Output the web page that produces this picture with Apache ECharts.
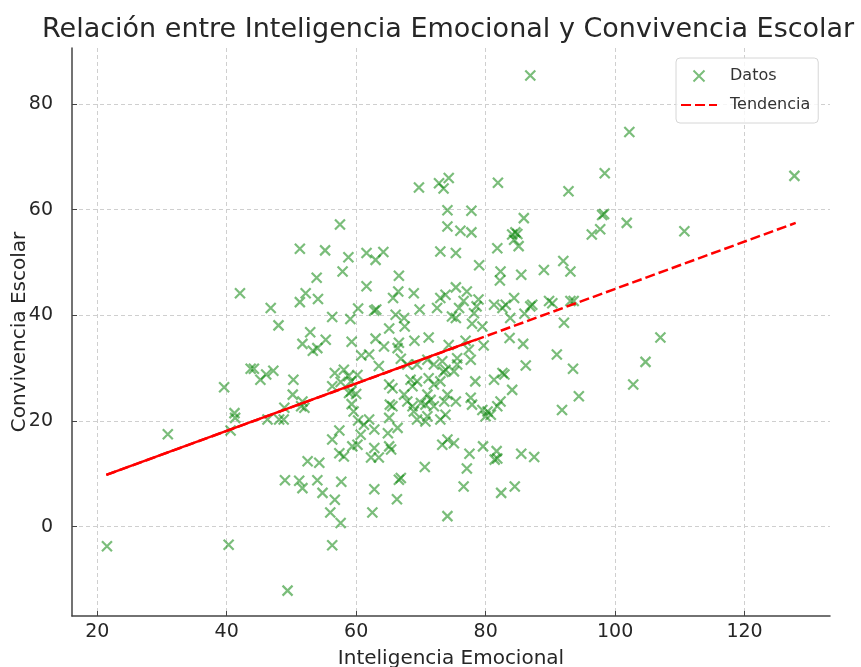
<!DOCTYPE html>
<html>
<head>
<meta charset="UTF-8">
<title>Relación entre Inteligencia Emocional y Convivencia Escolar</title>
<script src="https://cdn.jsdelivr.net/npm/echarts@6/dist/echarts.min.js"></script>
<style>html,body{margin:0;padding:0;background:#fff}</style>
</head>
<body>
<div id="chart" style="width:861px;height:667px"></div>
<script>
// puntos (x = inteligencia emocional, y = convivencia escolar)
var emoX = [21.5, 40.3, 49.4, 30.9, 40.6, 39.6, 41.2, 41.3, 42.05, 43.7, 44.2, 45.2, 86.9, 102.2, 127.7, 110.7, 107.0, 104.7, 102.8,
    57.5, 69.7, 72.8, 73.5, 74.3, 74.1, 74.1, 81.9, 98.4, 92.8, 77.8, 85.9, 98.0, 98.3, 97.7, 96.4, 101.8, 84.6, 84.9, 84.1, 76.1, 77.8,
    51.3, 55.2, 58.8, 57.9, 53.9, 61.6, 63.0, 64.2, 52.2, 51.3, 54.1, 46.8, 48.0, 56.3, 59.1, 60.3, 61.6, 66.6, 66.5, 65.7, 68.9, 73.0,
    73.0, 72.5, 73.8, 69.8, 62.8, 63.1, 66.1, 67.4, 67.5, 65.1, 52.9, 51.7, 53.3, 54.0, 55.3, 59.3, 63.0, 64.3, 66.6, 66.4, 69.0, 71.2,
    74.3, 60.8, 62.0, 63.5, 66.9, 67.9, 69.4, 71.0, 72.0, 73.3, 73.8, 46.1, 47.2, 50.3, 56.7, 58.1, 58.8, 60.2, 57.6, 59.2, 56.3, 59.2,
    60.0, 65.6, 65.1, 68.4, 69.4, 68.7, 71.2, 72.0, 73.0, 73.5, 46.3, 48.1, 48.8, 48.9, 50.2, 51.5, 52.0, 51.7, 59.3, 59.6, 58.9, 60.3,
    61.2, 62.0, 65.2, 65.6, 65.1, 70.7, 71.0, 73.0, 73.8, 67.9, 68.7, 68.9, 70.0, 70.7, 71.0, 71.5, 72.0, 73.6, 74.1, 69.4, 67.4,
    56.3, 57.6, 56.0, 56.7, 54.8, 49.0, 51.2, 51.7, 54.0, 57.7, 62.8, 62.5, 66.3, 66.6, 66.9, 70.6, 74.1, 52.5, 54.3, 56.3, 57.4, 58.1,
    59.4, 60.2, 60.7, 62.8, 62.3, 63.5, 65.1, 65.4, 57.4, 62.8, 64.9, 73.3, 74.1, 66.4,
    76.6, 77.1, 77.5, 75.1, 79.6, 81.7, 81.4, 81.8, 82.4, 84.5, 85.5, 87.5,
    75.4, 81.8, 84.4, 85.1, 79.0, 82.3, 82.2, 85.5, 89.0, 92.0, 93.1, 75.4, 77.1, 76.6, 78.9, 78.6, 75.9, 81.3, 82.6, 83.1, 84.4, 86.9,
    87.2, 86.0, 89.8, 90.3, 93.1, 93.6, 83.8, 74.8, 75.4, 78.2, 77.9, 79.5, 92.1, 83.7, 85.8, 79.7, 76.9, 77.4, 91.0, 75.6, 77.7, 86.2,
    93.5, 82.6, 82.9, 81.3, 78.4, 75.1, 75.6, 84.1, 94.4, 75.4, 77.7, 77.9, 82.3, 81.8, 79.5, 80.3, 80.8, 80.0, 91.8];
var convY = [-3.7, -3.4, -12.1, 17.5, 18.2, 26.4, 21.5, 20.6, 44.2, 29.9, 29.9, 27.8, 85.4, 74.7, 66.4, 55.9, 35.8, 31.2, 26.9,
    57.2, 64.2, 65.0, 64.0, 66.0, 59.9, 56.8, 65.1, 66.9, 63.5, 59.8, 58.4, 59.0, 59.2, 56.3, 55.3, 57.5, 55.7, 55.4, 55.3, 56.0, 55.7,
    52.6, 52.3, 51.0, 48.3, 47.1, 51.8, 50.5, 52.0, 44.2, 42.5, 43.1, 41.4, 38.1, 39.7, 39.3, 41.3, 45.5, 47.5, 44.5, 43.3, 44.2, 52.1,
    43.3, 41.4, 43.9, 41.1, 40.9, 41.1, 40.1, 39.5, 37.9, 37.5, 36.8, 34.6, 33.3, 33.8, 35.4, 35.0, 35.6, 34.1, 34.8, 33.8, 35.2, 35.8,
    34.4, 32.4, 32.6, 30.4, 31.8, 30.7, 30.7, 31.6, 30.7, 31.3, 29.7, 28.8, 29.5, 27.8, 29.1, 29.7, 28.5, 28.7, 27.4, 27.5, 26.6, 25.6,
    25.1, 26.2, 26.9, 27.8, 27.5, 26.6, 28.1, 26.9, 27.5, 29.3, 20.3, 20.3, 20.3, 22.5, 25.0, 22.8, 22.5, 23.7, 23.2, 21.8, 25.3, 20.1,
    19.3, 20.3, 23.1, 22.8, 20.6, 19.9, 20.9, 20.3, 21.2, 23.7, 22.8, 21.8, 23.4, 23.1, 25.0, 24.0, 22.8, 23.7, 25.0, 20.3, 25.0,
    -3.5, 0.7, 2.7, 5.1, 6.4, 8.8, 8.7, 7.3, 8.8, 8.5, 7.1, 2.7, 5.2, 8.9, 9.2, 11.3, 2.0, 12.4, 12.1, 16.5, 13.9, 13.3,
    15.2, 15.5, 17.4, 14.9, 13.1, 13.1, 15.2, 14.6, 18.2, 18.4, 17.7, 15.5, 16.5, 18.7,
    7.6, 11.0, 13.8, 15.8, 15.2, 14.3, 12.7, 12.9, 6.4, 7.6, 13.8, 13.2,
    51.8, 52.7, 54.3, 53.1, 49.5, 48.3, 46.6, 47.7, 48.6, 50.3, 48.3, 45.3, 44.5, 42.7, 43.0, 41.7, 41.4, 42.0, 41.4, 42.0, 43.3, 41.7,
    42.0, 40.3, 42.7, 42.3, 42.7, 42.7, 39.5, 39.8, 39.5, 40.4, 38.4, 37.9, 38.6, 35.7, 34.6, 34.3, 35.2, 33.5, 32.6, 31.9, 31.6, 30.5,
    29.9, 29.1, 28.8, 27.8, 27.5, 29.4, 30.7, 25.9, 24.7, 23.7, 24.4, 23.1, 23.7, 22.8, 22.1, 21.8, 21.2, 20.9, 22.1];

// recta de tendencia (extremos y punto donde termina el tramo continuo)
var trendX = [21.4, 78.5, 127.9];
var trendY = [9.8, 35.4, 57.5];

var xTicks = [20, 40, 60, 80, 100, 120];
var yTicks = [0, 20, 40, 60, 80];

var puntos = [];
for (var i = 0; i < emoX.length; i++) {
    puntos.push([emoX[i], convY[i]]);
}
var tendencia = [];
for (var j = 0; j < trendX.length; j++) {
    tendencia.push([trendX[j], trendY[j]]);
}

var fuente = 'DejaVu Sans';
var gris = '#cfcfcf';

var myChart = echarts.init(document.getElementById('chart'));
var option = {
    backgroundColor: '#fff',
    animation: false,
    textStyle: { fontFamily: fuente },
    title: {
        text: 'Relación entre Inteligencia Emocional y Convivencia Escolar',
        left: 37,
        top: 11,
        textStyle: { fontFamily: fuente, fontSize: 27, fontWeight: 'normal', color: '#262626' }
    },
    legend: {
        orient: 'vertical',
        left: 676,
        top: 58,
        padding: [10, 8, 10, 4],
        itemGap: 13,
        itemWidth: 36,
        itemHeight: 11,
        backgroundColor: 'rgba(255,255,255,0.8)',
        borderColor: '#d6d6d6',
        borderWidth: 1,
        borderRadius: 4,
        textStyle: { fontFamily: fuente, fontSize: 16, color: '#333', padding: [0, 0, 0, 8] },
        data: ['Datos', { name: 'Tendencia', itemStyle: { opacity: 0 } }]
    },
    grid: { left: 72, right: 31, top: 48, bottom: 51, outerBoundsMode: 'none' },
    xAxis: {
        type: 'value',
        min: 16.1,
        max: 133.2,
        name: 'Inteligencia Emocional',
        nameLocation: 'middle',
        nameGap: 33,
        nameMoveOverlap: false,
        nameTextStyle: { fontFamily: fuente, fontSize: 20, color: '#262626' },
        axisLine: { onZero: false, lineStyle: { color: '#444', width: 1.5 } },
        axisTick: { show: true, inside: true, length: 5, customValues: xTicks, lineStyle: { color: '#444' } },
        axisLabel: { customValues: xTicks, fontFamily: fuente, fontSize: 19, color: '#262626', margin: 7 },
        splitLine: { show: true, lineStyle: { color: gris, type: [4, 3], width: 1 } }
    },
    yAxis: {
        type: 'value',
        min: -16.9,
        max: 90.6,
        name: 'Convivencia Escolar',
        nameLocation: 'middle',
        nameRotate: 90,
        nameGap: 42,
        nameMoveOverlap: false,
        nameTextStyle: { fontFamily: fuente, fontSize: 20, color: '#262626' },
        axisLine: { show: true, onZero: false, lineStyle: { color: '#444', width: 1.5 } },
        axisTick: { show: true, inside: true, length: 5, customValues: yTicks, lineStyle: { color: '#444' } },
        axisLabel: { customValues: yTicks, fontFamily: fuente, fontSize: 19, color: '#262626', margin: 19 },
        splitLine: { show: true, lineStyle: { color: gris, type: [4, 3], width: 1 } }
    },
    series: [
        {
            name: 'Datos',
            type: 'scatter',
            data: puntos,
            symbol: 'path://M0,0L10,10M10,0L0,10',
            symbolSize: 10,
            symbolKeepAspect: true,
            itemStyle: { color: 'rgba(0,0,0,0)', borderColor: 'rgba(0,128,0,0.65)', borderWidth: 2.2 },
            z: 3
        },
        {
            name: 'Tendencia',
            type: 'line',
            data: [tendencia[0], tendencia[2]],
            symbol: 'none',
            lineStyle: { color: '#ff0000', width: 2.5, type: [10, 4] },
            itemStyle: { color: '#ff0000' },
            z: 4
        },
        {
            // tramo que se ve continuo (muchos segmentos superpuestos)
            name: 'tramo',
            type: 'line',
            data: [tendencia[0], tendencia[1]],
            symbol: 'none',
            lineStyle: { color: '#ff0000', width: 2.5, type: 'solid' },
            z: 4
        }
    ]
};
myChart.setOption(option);
</script>
</body>
</html>
